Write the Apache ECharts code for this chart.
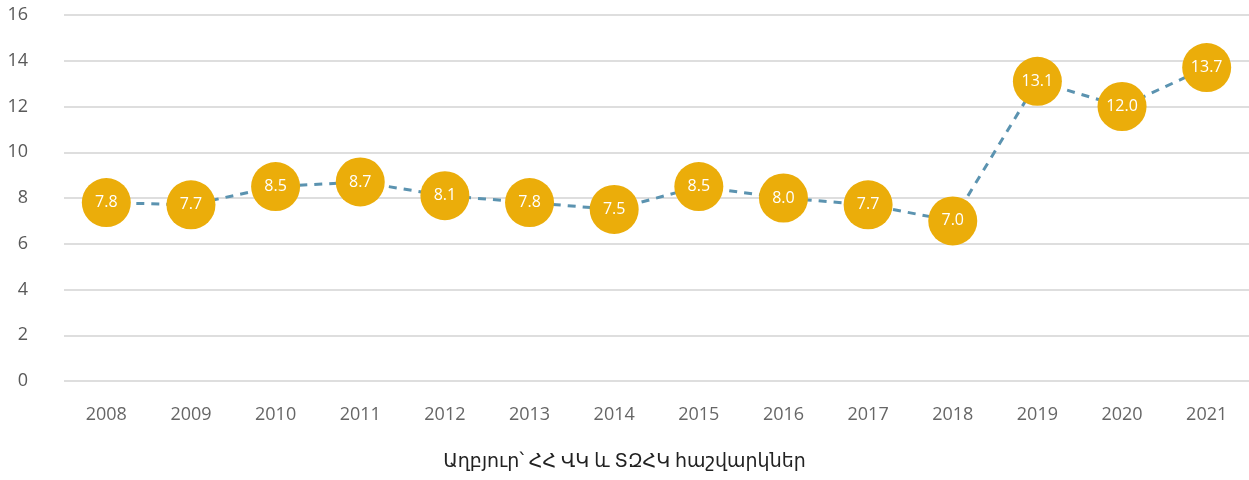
<!DOCTYPE html>
<html>
<head>
<meta charset="utf-8">
<script src="https://cdn.jsdelivr.net/npm/echarts@6/dist/echarts.min.js"></script>
<style>
html, body { margin: 0; padding: 0; background: #fff; }
#main { width: 1249px; height: 480px; }
</style>
</head>
<body>
<div id="main"></div>
<script>
// տարիներ
var years = ['2008', '2009', '2010', '2011', '2012', '2013', '2014', '2015', '2016', '2017', '2018', '2019', '2020', '2021'];
// արժեքներ
var values = [7.8, 7.7, 8.5, 8.7, 8.1, 7.8, 7.5, 8.5, 8.0, 7.7, 7.0, 13.1, 12.0, 13.7];
var sourceText = 'Աղբյուր՝ ՀՀ ՎԿ և ՏԶՀԿ հաշվարկներ';

var font = '"Open Sans", "Noto Sans", "DejaVu Sans", sans-serif';
var myChart = echarts.init(document.getElementById('main'));

var option = {
	animation: false,
	title: {
		text: sourceText,
		left: 'center',
		bottom: 4,
		textStyle: {
			color: '#222',
			fontSize: 19,
			fontWeight: 'normal',
			fontFamily: font
		}
	},
	grid: {
		left: 64,
		right: 0,
		top: 15,
		bottom: 99
	},
	xAxis: {
		type: 'category',
		data: years,
		boundaryGap: true,
		axisLine: { show: false },
		axisTick: { show: false },
		axisLabel: {
			color: '#666',
			fontSize: 18,
			fontFamily: font,
			margin: 25
		}
	},
	yAxis: {
		type: 'value',
		min: 0,
		max: 16,
		interval: 2,
		axisLine: { show: false },
		axisTick: { show: false },
		axisLabel: {
			color: '#595959',
			fontSize: 18,
			fontFamily: font,
			margin: 36
		},
		splitLine: {
			lineStyle: { color: '#dedede', width: 2 }
		}
	},
	series: [{
		type: 'line',
		data: values,
		symbol: 'circle',
		symbolSize: 49,
		lineStyle: {
			color: '#5b93b0',
			width: 3,
			type: [8, 7]
		},
		itemStyle: {
			color: '#ebad0a'
		},
		label: {
			show: true,
			position: 'inside',
			color: '#fff',
			fontSize: 16,
			fontFamily: font,
			formatter: function (p) {
				return p.value.toFixed(1);
			}
		},
		z: 3
	}]
};
myChart.setOption(option);
</script>
</body>
</html>
